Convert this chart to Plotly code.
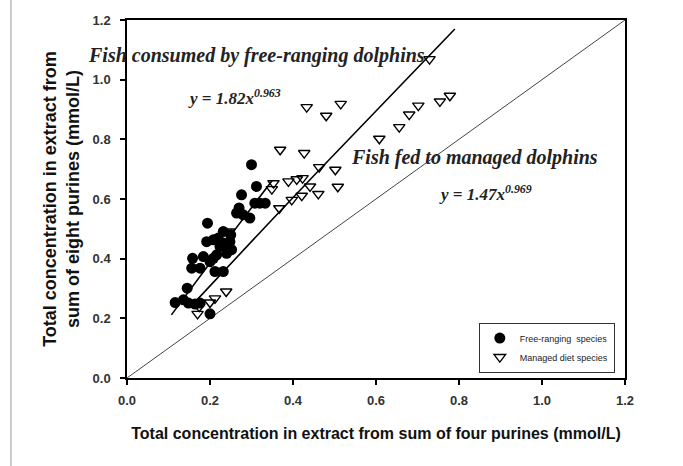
import plotly.graph_objects as go

# Free-ranging species (filled circles)
free_x = [0.300, 0.312, 0.276, 0.264, 0.280, 0.296, 0.308, 0.320, 0.333, 0.194,
          0.192, 0.208, 0.220, 0.232, 0.224, 0.236, 0.248, 0.252, 0.240, 0.216,
          0.208, 0.184, 0.200, 0.158, 0.156, 0.176, 0.212, 0.232, 0.145, 0.116,
          0.136, 0.148, 0.164, 0.176, 0.200, 0.270, 0.250]
free_y = [0.715, 0.642, 0.614, 0.553, 0.547, 0.536, 0.586, 0.586, 0.586, 0.519,
          0.457, 0.463, 0.469, 0.491, 0.441, 0.452, 0.457, 0.430, 0.418, 0.413,
          0.401, 0.407, 0.390, 0.401, 0.368, 0.368, 0.357, 0.357, 0.301, 0.253,
          0.262, 0.251, 0.248, 0.251, 0.215, 0.570, 0.480]

# Managed diet species (open down-triangles)
man_x = [0.729, 0.778, 0.754, 0.702, 0.680, 0.656, 0.608, 0.433, 0.480, 0.515,
         0.369, 0.427, 0.463, 0.502, 0.508, 0.461, 0.441, 0.423, 0.409, 0.389,
         0.353, 0.349, 0.421, 0.397, 0.367, 0.247, 0.239, 0.212, 0.200, 0.174,
         0.170]
man_y = [1.069, 0.946, 0.927, 0.913, 0.883, 0.841, 0.802, 0.908, 0.879, 0.919,
         0.765, 0.754, 0.707, 0.698, 0.641, 0.617, 0.642, 0.670, 0.666, 0.659,
         0.653, 0.633, 0.611, 0.597, 0.569, 0.491, 0.290, 0.267, 0.253, 0.239,
         0.215]

# Fitted power curves y = a * x^b (coefficients printed on the chart)
free_a, free_b = 1.82, 0.963
man_a, man_b = 1.47, 0.969
free_fit_x = [0.107, 0.15, 0.2, 0.25, 0.3, 0.35]
man_fit_x = [0.168, 0.25, 0.35, 0.45, 0.55, 0.65, 0.79]

# 1:1 reference line
ref_x = [0.0, 1.2]
ref_y = [0.0, 1.2]

tick_vals = [0.0, 0.2, 0.4, 0.6, 0.8, 1.0, 1.2]
tick_text = ["0.0", "0.2", "0.4", "0.6", "0.8", "1.0", "1.2"]

free_fit_y = [free_a * x ** free_b for x in free_fit_x]
man_fit_y = [man_a * x ** man_b for x in man_fit_x]

SANS = "Liberation Sans, Arial, sans-serif"
SERIF = "Liberation Serif, Times New Roman, serif"

fig = go.Figure()
fig.add_trace(go.Scatter(x=ref_x, y=ref_y, mode="lines",
                         line=dict(color="#444", width=1), showlegend=False,
                         hoverinfo="skip"))
fig.add_trace(go.Scatter(x=free_fit_x, y=free_fit_y, mode="lines",
                         line=dict(color="black", width=1.6), showlegend=False))
fig.add_trace(go.Scatter(x=man_fit_x, y=man_fit_y, mode="lines",
                         line=dict(color="black", width=1.6), showlegend=False))
fig.add_trace(go.Scatter(x=free_x, y=free_y, mode="markers",
                         name="Free-ranging  species",
                         marker=dict(symbol="circle", size=11, color="black")))
fig.add_trace(go.Scatter(x=man_x, y=man_y, mode="markers",
                         name="Managed diet species",
                         marker=dict(symbol="triangle-down-open", size=10,
                                     color="black", line=dict(width=1.4))))

axis_common = dict(range=[0, 1.2], tickvals=tick_vals,
                   ticktext=["<b>%s</b>" % t for t in tick_text],
                   showgrid=False, zeroline=False, showline=True,
                   linecolor="black", linewidth=1.5, mirror=True,
                   ticks="outside", ticklen=5, tickwidth=1.5, tickcolor="black",
                   tickfont=dict(family=SANS, size=13, color="#333"))

fig.update_xaxes(**axis_common, ticklabelstandoff=5,
                 title=dict(text="<b>Total concentration in extract from sum of four purines (mmol/L)</b>",
                            font=dict(family=SANS, size=16, color="#111"), standoff=20))
fig.update_yaxes(**axis_common, ticklabelstandoff=7,
                 title=dict(text="<b>Total concentration in extract from<br>sum of eight purines (mmol/L)</b>",
                            font=dict(family=SANS, size=18, color="#111"), standoff=8))

annots = [
    dict(x=0.312, y=1.081, text="<b><i>Fish consumed by free-ranging dolphins</i></b>", size=20),
    dict(x=0.26, y=0.943, text="<b><i>y = 1.82x<sup>0.963</sup></i></b>", size=17),
    dict(x=0.837, y=0.738, text="<b><i>Fish fed to managed dolphins</i></b>", size=20),
    dict(x=0.865, y=0.621, text="<b><i>y = 1.47x<sup>0.969</sup></i></b>", size=17),
]
for a in annots:
    fig.add_annotation(x=a["x"], y=a["y"], xref="x", yref="y", text=a["text"],
                       showarrow=False, xanchor="center", yanchor="middle",
                       font=dict(family=SERIF, size=a["size"], color="#222"))

# thin gray border line at left of the page
fig.add_shape(type="line", xref="paper", yref="paper", x0=-0.233, x1=-0.233,
              y0=-0.3, y1=1.1, line=dict(color="#999", width=1))

fig.update_layout(
    width=683, height=466,
    margin=dict(l=127, r=58, t=20, b=88, autoexpand=False),
    paper_bgcolor="white", plot_bgcolor="white",
    legend=dict(x=0.843, y=0.085, xanchor="center", yanchor="middle",
                bgcolor="white", bordercolor="#333", borderwidth=1,
                font=dict(family=SANS, size=9, color="#222"),
                itemwidth=30, tracegroupgap=0),
)

fig.write_html("out.html")
